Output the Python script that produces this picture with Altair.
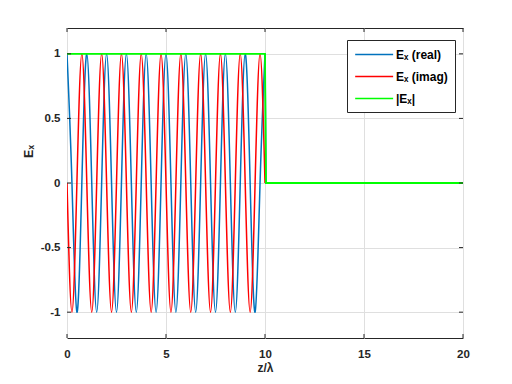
import altair as alt
import pandas as pd

# ---- data ----
z_wave = [0, 0.25, 0.5, 0.75, 1, 1.25, 1.5, 1.75, 2, 2.25, 2.5, 2.75, 3, 3.25, 3.5, 3.75,
          4, 4.25, 4.5, 4.75, 5, 5.25, 5.5, 5.75, 6, 6.25, 6.5, 6.75, 7, 7.25, 7.5, 7.75,
          8, 8.25, 8.5, 8.75, 9, 9.25, 9.5, 9.75, 10]
real_wave = [1, 0, -1, 0, 1, 0, -1, 0, 1, 0, -1, 0, 1, 0, -1, 0, 1, 0, -1, 0,
             1, 0, -1, 0, 1, 0, -1, 0, 1, 0, -1, 0, 1, 0, -1, 0, 1, 0, -1, 0, 1]
imag_wave = [0, -1, 0, 1, 0, -1, 0, 1, 0, -1, 0, 1, 0, -1, 0, 1, 0, -1, 0, 1,
             0, -1, 0, 1, 0, -1, 0, 1, 0, -1, 0, 1, 0, -1, 0, 1, 0, -1, 0, 1, 0]
z_tail = [10, 10.05, 20]
real_tail = [1, 0, 0]
imag_tail = [0, 0, 0]
z_abs = [0, 10, 10.05, 20]
abs_vals = [1, 1, 0, 0]

x_ticks = [0, 5, 10, 15, 20]
y_ticks = [-1, -0.5, 0, 0.5, 1]

names = ["E\u2093 (real)", "E\u2093 (imag)", "|E\u2093|"]
colors = ["#0072BD", "#FF0000", "#00FF00"]

FONT = "Liberation Sans"
W, H = 396, 310

def frame(z, v, name):
    return pd.DataFrame({"z": z, "v": v, "s": [name] * len(z)})

x_scale = alt.Scale(domain=[0, 20], nice=False, zero=False)
y_scale = alt.Scale(domain=[-1.2, 1.2], nice=False, zero=False)
c_scale = alt.Scale(domain=names, range=colors)

x_axis = alt.Axis(values=x_ticks, title="z/\u03bb", grid=True, gridColor="#dfdfdf",
                  ticks=False, tickSize=0, domain=False, labelFont=FONT, labelFontSize=11.5,
                  labelFontWeight="bold", labelColor="#262626", labelPadding=10,
                  labelFlush=False, labelExpr="toString(datum.value)",
                  titleFont=FONT, titleFontSize=12, titleFontWeight="bold",
                  titleColor="#262626", titleY=29, titleBaseline="middle")
y_axis = alt.Axis(values=y_ticks, title="E\u2093", grid=True, gridColor="#dfdfdf",
                  ticks=False, tickSize=0, domain=False, labelFont=FONT, labelFontSize=11.5,
                  labelFontWeight="bold", labelColor="#262626", labelPadding=7,
                  labelFlush=False, labelExpr="toString(datum.value)",
                  titleFont=FONT, titleFontSize=12.5, titleFontWeight="bold",
                  titleColor="#262626", titleAngle=270, titleX=-35, titleY=123,
                  titleAlign="center", titleBaseline="alphabetic")

# legend line symbol: a horizontal stroke drawn to the right of a small symbol cell
legend = alt.Legend(title=None, orient="none", legendX=280, legendY=12,
                    symbolType="M-1,0H5", symbolSize=160, symbolStrokeWidth=1.5,
                    labelFont=FONT, labelFontSize=12, labelFontWeight="bold",
                    labelColor="#000000", labelOffset=27, strokeColor="#262626",
                    fillColor="white", padding=7, rowPadding=8, cornerRadius=0)

def line(df, interp, sw=1.5):
    return alt.Chart(df).mark_line(interpolate=interp, strokeWidth=sw, clip=True).encode(
        x=alt.X("z:Q", scale=x_scale, axis=x_axis),
        y=alt.Y("v:Q", scale=y_scale, axis=y_axis),
        color=alt.Color("s:N", scale=c_scale, legend=legend),
    )

blue_w = line(frame(z_wave, real_wave, names[0]), "natural")
blue_t = line(frame(z_tail, real_tail, names[0]), "linear")
red_w = line(frame(z_wave, imag_wave, names[1]), "natural")
red_t = line(frame(z_tail, imag_tail, names[1]), "linear")
green = line(frame(z_abs, abs_vals, names[2]), "linear", sw=1.8)

# inward tick marks (MATLAB style)
xt = pd.DataFrame({"t": x_ticks})
yt = pd.DataFrame({"t": y_ticks})
tk = dict(color="#262626", strokeWidth=1)
t_bottom = alt.Chart(xt).mark_rule(**tk).encode(x=alt.X("t:Q", scale=x_scale, axis=x_axis),
                                                 y=alt.value(H), y2=alt.value(H - 4))
t_top = alt.Chart(xt).mark_rule(**tk).encode(x=alt.X("t:Q", scale=x_scale, axis=x_axis),
                                              y=alt.value(0), y2=alt.value(4))
t_left = alt.Chart(yt).mark_rule(**tk).encode(y=alt.Y("t:Q", scale=y_scale, axis=y_axis),
                                               x=alt.value(0), x2=alt.value(4))
t_right = alt.Chart(yt).mark_rule(**tk).encode(y=alt.Y("t:Q", scale=y_scale, axis=y_axis),
                                                x=alt.value(W), x2=alt.value(W - 4))

chart = alt.layer(blue_w, blue_t, red_w, red_t, green,
                  t_bottom, t_top, t_left, t_right).properties(
    width=W, height=H,
    background="white",
    autosize=alt.AutoSizeParams(type="none"),
    padding={"left": 59, "top": 20, "right": 30, "bottom": 40},
).configure_view(stroke="#262626", strokeWidth=1)

chart.save("out.html", embed_options={"renderer": "svg", "actions": False})
